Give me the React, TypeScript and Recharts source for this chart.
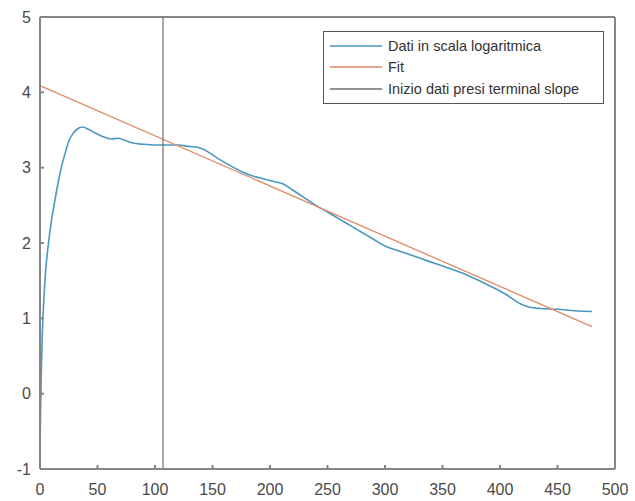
import { Line, LineChart, ReferenceLine, XAxis, YAxis } from "recharts";

// log-scale concentration samples (time, ln C)
const dataX = [
  0, 1, 2, 3, 5, 7, 10, 13, 16, 19, 22, 25, 29, 33, 37, 42, 48, 55, 62, 68,
  74, 80, 90, 100, 110, 120, 130, 137, 145, 155, 165, 175, 185, 195, 205, 212,
  220, 230, 240, 250, 260, 270, 280, 290, 300, 315, 330, 345, 360, 375, 390,
  405, 418, 425, 435, 450, 465, 480,
];
const dataY = [
  -0.7, 0.2, 0.8, 1.15, 1.65, 1.95, 2.3, 2.57, 2.82, 3.03, 3.2, 3.35, 3.46,
  3.52, 3.54, 3.51, 3.46, 3.41, 3.38, 3.39, 3.36, 3.33, 3.31, 3.3, 3.3, 3.3,
  3.28, 3.27, 3.22, 3.12, 3.03, 2.95, 2.89, 2.85, 2.81, 2.78, 2.7, 2.6, 2.5,
  2.41, 2.32, 2.23, 2.14, 2.05, 1.96, 1.88, 1.8, 1.72, 1.64, 1.55, 1.44,
  1.32, 1.19, 1.15, 1.13, 1.12, 1.1, 1.09,
];
const fitX = [0, 480];
const fitY = [4.09, 0.89];
const startX = [107, 107];
const startY = [-1, 5];

const xTicks = [0, 50, 100, 150, 200, 250, 300, 350, 400, 450, 500];
const yTicks = [-1, 0, 1, 2, 3, 4, 5];

const seriesNames = [
  "Dati in scala logaritmica",
  "Fit",
  "Inizio dati presi terminal slope",
];
const seriesColors = ["#4a98c2", "#e08a66", "#707070"];

const toPoints = (xs: number[], ys: number[]) =>
  xs.map((x, i) => ({ x, y: ys[i] }));

const axisColor = "#858585";
const labelColor = "#4a4a4a";
const font = "'Liberation Sans', Arial, sans-serif";
const frameLine = { stroke: axisColor, strokeWidth: 2 };

function LegendBox() {
  return (
    <div
      style={{
        position: "absolute",
        left: 323,
        top: 31,
        width: 281,
        border: "1px solid #555",
        background: "#fff",
        padding: "3px 6px 3px 6px",
        fontFamily: font,
        fontSize: 14.5,
        color: "#333",
        boxSizing: "border-box",
      }}
    >
      {seriesNames.map((name, i) => (
        <div
          key={name}
          style={{ display: "flex", alignItems: "center", height: 21.5 }}
        >
          <svg width={52} height={4} style={{ marginRight: 6 }}>
            <line
              x1={0}
              y1={2}
              x2={52}
              y2={2}
              stroke={seriesColors[i]}
              strokeWidth={1.5}
            />
          </svg>
          <span style={{ whiteSpace: "nowrap" }}>{name}</span>
        </div>
      ))}
    </div>
  );
}

export default function App() {
  return (
    <div style={{ position: "absolute", left: 0, top: 0, width: 635, height: 501 }}>
      <LineChart
        width={635}
        height={501}
        margin={{ top: 12, right: 15, bottom: 0, left: 0 }}
      >
        <XAxis
          dataKey="x"
          type="number"
          domain={[0, 500]}
          ticks={xTicks}
          height={32}
          stroke={axisColor}
          axisLine={frameLine}
          tickLine={frameLine}
          tickSize={-4}
          tickMargin={19}
          tick={{ fill: labelColor, fontSize: 16, fontFamily: font }}
        />
        <XAxis
          xAxisId="top"
          orientation="top"
          type="number"
          domain={[0, 500]}
          ticks={xTicks}
          height={5}
          stroke={axisColor}
          axisLine={false}
          tickLine={frameLine}
          tickSize={-4}
          tickFormatter={() => ""}
        />
        <YAxis
          type="number"
          domain={[-1, 5]}
          ticks={yTicks}
          width={40}
          stroke={axisColor}
          axisLine={frameLine}
          tickLine={frameLine}
          tickSize={-4}
          tickMargin={13}
          tick={{ fill: labelColor, fontSize: 16, fontFamily: font }}
        />
        <YAxis
          yAxisId="right"
          orientation="right"
          type="number"
          domain={[-1, 5]}
          ticks={yTicks}
          width={5}
          stroke={axisColor}
          axisLine={false}
          tickLine={frameLine}
          tickSize={-4}
          tickFormatter={() => ""}
        />
        <ReferenceLine y={5} stroke={axisColor} strokeWidth={2} />
        <ReferenceLine x={500} stroke={axisColor} strokeWidth={2} />
        <Line
          data={toPoints(dataX, dataY)}
          dataKey="y"
          name={seriesNames[0]}
          type="monotone"
          stroke={seriesColors[0]}
          strokeWidth={1.6}
          dot={false}
          isAnimationActive={false}
        />
        <Line
          data={toPoints(fitX, fitY)}
          dataKey="y"
          name={seriesNames[1]}
          type="linear"
          stroke={seriesColors[1]}
          strokeWidth={1.3}
          dot={false}
          isAnimationActive={false}
        />
        <Line
          data={toPoints(startX, startY)}
          dataKey="y"
          name={seriesNames[2]}
          type="linear"
          stroke={seriesColors[2]}
          strokeWidth={1.2}
          dot={false}
          isAnimationActive={false}
        />
      </LineChart>
      <LegendBox />
    </div>
  );
}
